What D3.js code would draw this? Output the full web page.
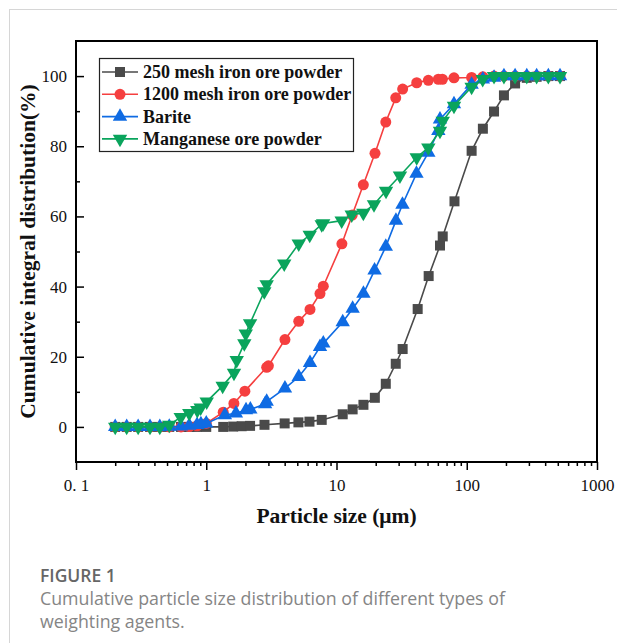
<!DOCTYPE html>
<html>
<head>
<meta charset="utf-8">
<script src="https://cdn.jsdelivr.net/npm/d3@7/dist/d3.min.js"></script>
<style>
  html, body { margin: 0; padding: 0; background: #fff; }
  svg { display: block; }
</style>
</head>
<body>
<svg id="chart" width="617" height="643"></svg>
<script>
// Particle sizes (µm) and cumulative distribution (%) for each powder
const seriesNames = ["250 mesh iron ore powder", "1200 mesh iron ore powder", "Barite", "Manganese ore powder"];

const mesh250X = [0.2, 0.245, 0.3, 0.37, 0.44, 0.52, 0.64, 0.74, 0.85, 1.0, 1.35, 1.61, 1.87, 2.17, 2.8, 4.0, 5.1, 6.2, 7.7,
  11.16, 13.3, 16.1, 19.7, 23.9, 28.5, 32.2, 42, 51, 62.3, 65.4, 80.5, 109, 133, 162, 193, 235, 289, 344, 423, 520];
const mesh250Y = [0, 0, 0, 0, 0, 0, 0, 0, 0, 0, 0, 0.1, 0.2, 0.3, 0.6, 1.0, 1.3, 1.5, 2.0,
  3.6, 5.0, 6.3, 8.3, 12.3, 18.0, 22.2, 33.6, 43.0, 51.7, 54.3, 64.3, 78.7, 85.0, 89.9, 94.5, 97.9, 99.5, 99.8, 100, 100];

const mesh1200X = [0.2, 0.245, 0.3, 0.37, 0.44, 0.52, 0.64, 0.74, 0.85, 1.0, 1.35, 1.63, 1.98, 2.91, 3.0, 4.02, 5.13, 6.26, 7.47, 7.92,
  11.0, 13.2, 16.07, 19.75, 23.9, 28.5, 32.2, 41.3, 50.7, 60.5, 65.0, 79.8, 109, 133, 162, 193, 235, 289, 344, 423, 520];
const mesh1200Y = [0, 0, 0, 0, 0, 0, 0, 0.1, 0.3, 1.0, 4.2, 6.7, 10.2, 17.0, 17.4, 24.9, 30.1, 33.5, 38.0, 40.1,
  52.2, 60.4, 69.0, 78.0, 86.9, 93.8, 96.3, 98.1, 98.8, 99.1, 99.1, 99.5, 99.6, 99.8, 100, 100, 100, 100, 100, 100, 100];

const bariteX = [0.2, 0.245, 0.3, 0.37, 0.44, 0.52, 0.64, 0.74, 0.85, 0.91, 1.0, 1.39, 1.69, 2.02, 2.18, 2.83, 2.91, 4.02, 5.13, 6.26, 7.47, 7.92,
  11.16, 13.3, 16.1, 19.6, 23.9, 28.6, 32.1, 41.1, 50.7, 60.5, 62.3, 79.8, 109, 133, 162, 193, 235, 289, 344, 423, 520];
const bariteY = [0, 0, 0, 0, 0, 0.1, 0.2, 0.4, 0.6, 0.8, 1.0, 3.4, 3.9, 4.8, 5.0, 6.5, 7.2, 11.0, 14.3, 18.3, 22.8, 23.8,
  29.9, 33.7, 38.0, 44.6, 51.4, 58.8, 63.4, 72.2, 78.2, 84.4, 87.7, 92.0, 97.6, 99.1, 99.6, 100, 100, 100, 100, 100, 100];

const manganeseX = [0.2, 0.245, 0.3, 0.37, 0.44, 0.52, 0.637, 0.741, 0.854, 0.906, 1.008, 1.337, 1.633, 1.714, 1.96, 2.01, 2.17, 2.79, 2.91, 3.97, 5.13, 6.23, 7.7, 7.9,
  10.96, 13.09, 16.07, 19.4, 24.0, 30.7, 41.3, 50.7, 62.3, 65.4, 79.8, 109, 132.6, 162, 193, 235, 289, 344, 423, 520];
const manganeseY = [0, 0, 0, 0, 0, 0.6, 2.8, 3.9, 4.8, 5.5, 7.2, 11.7, 15.4, 19.0, 23.8, 26.6, 29.5, 38.6, 40.6, 46.5, 52.2, 54.7, 57.7, 58.0,
  58.8, 60.5, 61.0, 63.4, 67.3, 71.6, 76.8, 79.6, 84.4, 87.2, 91.5, 96.9, 99.1, 100, 100, 100, 100, 100, 100, 100];

const xTickValues = [0.1, 1, 10, 100, 1000];
const xTickLabels = ["0. 1", "1", "10", "100", "1000"];
const yTickValues = [0, 20, 40, 60, 80, 100];

const colors = ["#4a4a4a", "#f53f3f", "#0f6be3", "#0aa45c"];
const symbols = [d3.symbolSquare, d3.symbolCircle, d3.symbolTriangle, d3.symbolTriangle];

const series = [
  { name: seriesNames[0], x: mesh250X, y: mesh250Y },
  { name: seriesNames[1], x: mesh1200X, y: mesh1200Y },
  { name: seriesNames[2], x: bariteX, y: bariteY },
  { name: seriesNames[3], x: manganeseX, y: manganeseY }
];

const svg = d3.select("#chart");
const serif = "'Liberation Serif', 'Times New Roman', serif";

// page frame
svg.append("line").attr("x1", 9.5).attr("x2", 9.5).attr("y1", 9).attr("y2", 643)
  .attr("stroke", "#d6d6d6").attr("stroke-width", 1);
svg.append("line").attr("x1", 9).attr("x2", 617).attr("y1", 9.5).attr("y2", 9.5)
  .attr("stroke", "#d6d6d6").attr("stroke-width", 1);

const plot = { left: 76, right: 597, top: 41, bottom: 462 };

const x = d3.scaleLog().domain([0.1, 1000]).range([plot.left, plot.right]);
const y = d3.scaleLinear().domain([-10, 110]).range([plot.bottom, plot.top]);

// x axis (outward ticks)
const xMinor = [];
for (let e = -1; e < 3; e++) for (let k = 2; k <= 9; k++) xMinor.push(k * Math.pow(10, e));

const xAxisG = svg.append("g").attr("transform", `translate(0,${plot.bottom})`);
xAxisG.call(d3.axisBottom(x).tickValues(xMinor).tickSize(4).tickFormat(""));
xAxisG.call(g => g.select(".domain").remove());
const xMajorG = svg.append("g").attr("transform", `translate(0,${plot.bottom})`)
  .call(d3.axisBottom(x).tickValues(xTickValues).tickSize(8).tickPadding(9)
    .tickFormat((d, i) => xTickLabels[i]));
xMajorG.select(".domain").remove();
xMajorG.selectAll("text").attr("font-family", serif).attr("font-size", 17).attr("fill", "#111");

// y axis (inward ticks)
const yMinorG = svg.append("g").attr("transform", `translate(${plot.left},0)`)
  .call(d3.axisRight(y).tickValues([10, 30, 50, 70, 90]).tickSize(4).tickFormat(""));
yMinorG.select(".domain").remove();
const yMajorG = svg.append("g").attr("transform", `translate(${plot.left},0)`)
  .call(d3.axisLeft(y).tickValues(yTickValues).tickSize(0).tickPadding(9));
yMajorG.select(".domain").remove();
yMajorG.selectAll("text").attr("font-family", serif).attr("font-size", 17).attr("fill", "#111");
yMajorG.selectAll(".tick").append("line").attr("x1", 0).attr("x2", 8).attr("stroke", "#000");
svg.selectAll(".tick line").attr("stroke", "#000").attr("stroke-width", 1.5);

// plot frame
svg.append("rect")
  .attr("x", plot.left).attr("y", plot.top)
  .attr("width", plot.right - plot.left).attr("height", plot.bottom - plot.top)
  .attr("fill", "none").attr("stroke", "#000").attr("stroke-width", 2);

// axis titles
svg.append("text").attr("x", (plot.left + plot.right) / 2).attr("y", 523)
  .attr("text-anchor", "middle").attr("font-family", serif).attr("font-weight", "bold")
  .attr("font-size", 21.5).attr("fill", "#111").text("Particle size (μm)");
svg.append("text").attr("transform", `translate(35,${(plot.top + plot.bottom) / 2}) rotate(-90)`)
  .attr("text-anchor", "middle").attr("font-family", serif).attr("font-weight", "bold")
  .attr("font-size", 21.5).attr("fill", "#111").text("Cumulative integral distribution(%)");

// series
const line = d3.line().x(d => x(d[0])).y(d => y(d[1]));
function drawSymbol(sel, i) {
  const sizes = [100, 95, 90, 90];
  sel.attr("d", d3.symbol().type(symbols[i]).size(sizes[i]))
    .attr("fill", colors[i]);
  if (i === 3) sel.attr("transform", function () { return d3.select(this).attr("transform") + " rotate(180)"; });
}

series.forEach((s, i) => {
  const pts = s.x.map((v, j) => [v, s.y[j]]);
  const g = svg.append("g");
  g.append("path").datum(pts).attr("d", line)
    .attr("fill", "none").attr("stroke", colors[i]).attr("stroke-width", 1.6);
  g.selectAll("path.m").data(pts).enter().append("path").attr("class", "m")
    .attr("transform", d => `translate(${x(d[0])},${y(d[1])})`)
    .each(function () { drawSymbol(d3.select(this), i); });
});

// legend
const lg = svg.append("g");
lg.append("rect").attr("x", 99.5).attr("y", 58.5).attr("width", 254).attr("height", 93)
  .attr("fill", "#fff").attr("stroke", "#222").attr("stroke-width", 1.2);
seriesNames.forEach((name, i) => {
  const cy = 72 + i * 22.3;
  lg.append("line").attr("x1", 102).attr("x2", 138).attr("y1", cy).attr("y2", cy)
    .attr("stroke", colors[i]).attr("stroke-width", 1.6);
  lg.append("path").attr("transform", `translate(120,${cy})`)
    .each(function () { drawSymbol(d3.select(this), i); });
  lg.append("text").attr("x", 143).attr("y", cy + 6)
    .attr("font-family", serif).attr("font-weight", "bold").attr("font-size", 18)
    .attr("fill", "#111").text(name);
});

// caption
const sans = "'Open Sans', 'Noto Sans', sans-serif";
svg.append("text").attr("x", 40).attr("y", 582).attr("font-family", sans)
  .attr("font-size", 17.5).attr("font-weight", 600).attr("fill", "#666").text("FIGURE 1");
svg.append("text").attr("x", 40).attr("y", 605).attr("font-family", sans)
  .attr("font-size", 17.8).attr("fill", "#858585")
  .text("Cumulative particle size distribution of different types of");
svg.append("text").attr("x", 40).attr("y", 628).attr("font-family", sans)
  .attr("font-size", 17.8).attr("fill", "#858585").text("weighting agents.");
</script>
</body>
</html>
